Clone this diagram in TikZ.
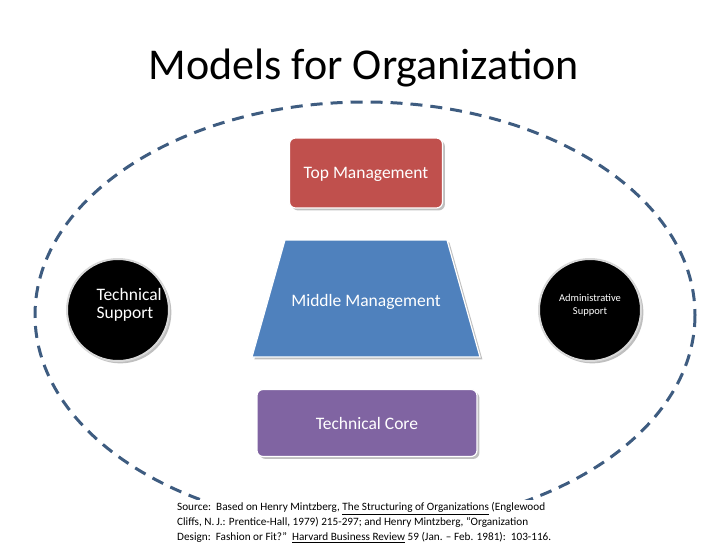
\documentclass[tikz,border=0pt]{standalone}
\usepackage{fontspec}
\setmainfont{Carlito}
\usetikzlibrary{positioning,shadows}

\definecolor{ringblue}{HTML}{3E5C80}
\definecolor{topred}{HTML}{C0504D}
\definecolor{midblue}{HTML}{4F81BD}
\definecolor{corepurple}{HTML}{8064A2}

\begin{document}
\begin{tikzpicture}[x=1pt,y=-1pt,
    box/.style={rounded corners=6pt,draw=white,line width=1.2pt,drop shadow},
    label/.style={text=white,font=\fontsize{17.5}{20}\selectfont},
    support/.style={circle,fill=black,draw=white!85!black,line width=2pt,
                minimum size=102pt,text=white,drop shadow}]

  \useasboundingbox (0,0) rectangle (728,546);

  \node (title) at (364,68) {\fontsize{44}{48}\selectfont Models for Organization};

  \draw[ringblue,line width=3pt,dash pattern=on 12pt off 8pt] (365,315) ellipse [x radius=330,y radius=213];

  % boxes
  \node[box,fill=topred,minimum width=153pt,minimum height=70pt] (top) at (366,173) {};
  \node[label] at (366,174) {Top Management};

  \filldraw[fill=midblue,draw=white,line width=1.2pt,drop shadow]
    (285,240) -- (447,240) -- (480,357) -- (252,357) -- cycle;
  \node[label] (middle) at (366,302) {Middle Management};

  \node[box,fill=corepurple,minimum width=220pt,minimum height=67pt] (core) at (367,423) {};
  \node[label] at (367,423) {Technical Core};

  % side circles
  \node[support] (tech) at (118,310) {};
  \node[label,align=left,anchor=west] at (93,305) {Technical\\[-2pt]Support};
  \node[support] (admin) at (590,310) {};
  \node[text=white,align=center,font=\fontsize{10.5}{13}\selectfont] at (590,305) {Administrative\\Support};

  \node[anchor=north west,align=left,fill=white,inner sep=2pt,font=\fontsize{11.2}{15}\selectfont] (source) at (175,500)
    {Source:\ \ Based on Henry Mintzberg, \underline{The Structuring of Organizations} (Englewood\\
     Cliffs, N.\,J.: Prentice-Hall, 1979) 215-297; and Henry Mintzberg, ``Organization\\
     Design:\ \ Fashion or Fit?''\ \ \underline{Harvard Business Review} 59 (Jan. -- Feb. 1981):\ \ 103-116.};
\end{tikzpicture}
\end{document}
